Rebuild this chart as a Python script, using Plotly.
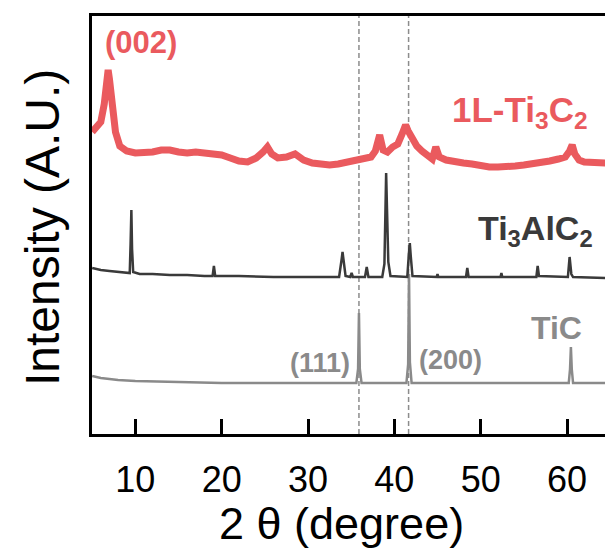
import plotly.graph_objects as go

# XRD patterns, stacked with vertical offsets (arbitrary units)
two_theta_1L = [5.0, 5.5, 6.0, 6.4, 6.7, 6.85, 7.0, 7.3, 7.7, 8.2, 9.0, 10, 11, 12, 13, 14, 15, 16, 17, 18,
                19, 20, 21, 22, 23, 24, 24.8, 25.3, 25.8, 26.5, 27.5, 28.5, 29.5, 30.5, 31.5, 32.5, 33.5, 34.5,
                35.5, 36.5, 37.3, 37.8, 38.3, 38.7, 39.2, 39.8, 40.4, 40.9, 41.3, 41.6, 42.0, 42.6, 43.2, 43.8,
                44.4, 44.8, 45.2, 46, 47, 48, 49, 50, 51, 52, 53, 54, 55, 56, 57, 58, 59, 59.8, 60.3, 60.6,
                60.9, 61.4, 62, 63, 64, 64.5]
intensity_1L = [302, 306, 312, 330, 355, 364, 355, 330, 302, 288, 283, 281, 281, 282, 284, 284, 282, 281, 282, 281,
                280, 279, 276, 273, 272, 276, 282, 287, 280, 276, 277, 280, 274, 271, 270, 269, 270, 272,
                275, 276, 277, 283, 299, 284, 282, 287, 290, 300, 309, 303, 296, 288, 283, 279,
                275, 287, 277, 274, 272, 271, 270, 268, 267, 267, 267, 268, 269, 270, 271, 273, 275, 277, 283, 289,
                280, 274, 272, 271, 271, 271]

two_theta_max = [5.0, 6, 7, 8, 9.0, 9.35, 9.45, 9.54, 9.62, 9.75, 10.5, 12, 14, 16, 18, 18.95, 19.1, 19.25, 22, 26,
                 30, 33.6, 33.9, 34.0, 34.1, 34.35, 34.9, 35.05, 35.2, 36.6, 36.8, 37.0, 38.6, 38.85, 38.95, 39.05,
                 39.15, 39.3, 39.55, 41.5, 41.68, 41.79, 41.9, 42.1, 44.9, 45.0, 45.1, 48.3, 48.45, 48.6, 52.3,
                 52.4, 52.5, 56.45, 56.6, 56.75, 60.1, 60.3, 60.5, 60.7, 64.5]
intensity_max = [166, 164, 163, 162, 161, 161, 190, 224, 185, 162, 160, 160, 159, 159, 158, 158, 168, 158, 158, 157,
                 157, 157, 175, 182, 175, 158, 157, 161, 157, 157, 167, 157, 157, 170, 215, 261,
                 225, 172, 158, 157, 180, 191, 178, 158, 157, 160, 157, 157, 166, 157, 157,
                 161, 157, 157, 168, 158, 157, 177, 160, 157, 156]

two_theta_tic = [5.0, 6, 7, 8, 10, 15, 20, 30, 35.6, 35.8, 35.9, 36.0, 36.2, 41.4, 41.6, 41.7, 41.8, 42.0,
                 60.2, 60.35, 60.45, 60.55, 60.7, 64.5]
intensity_tic = [58, 56, 55, 54, 53, 52, 51, 51, 51, 65, 121, 65, 51, 51, 70, 160, 72, 51,
                 51, 65, 87, 65, 51, 51]

tic_reflections = [35.9, 41.65]
x_ticks = [10, 20, 30, 40, 50, 60]

RED = "#EA5A5E"
DARK = "#3A3A3A"
GRAY = "#8A8A8A"
FONT = "Liberation Sans"

fig = go.Figure()
fig.add_trace(go.Scatter(x=two_theta_tic, y=intensity_tic, mode="lines",
                         line=dict(color=GRAY, width=2.5), hoverinfo="skip"))
fig.add_trace(go.Scatter(x=two_theta_max, y=intensity_max, mode="lines",
                         line=dict(color=DARK, width=2.5), hoverinfo="skip"))
fig.add_trace(go.Scatter(x=two_theta_1L, y=intensity_1L, mode="lines",
                         line=dict(color=RED, width=7), hoverinfo="skip"))

for pos in tic_reflections:
    fig.add_shape(type="line", x0=pos, x1=pos, y0=0, y1=1, xref="x", yref="paper",
                  line=dict(color="#8C8C8C", width=1.5, dash="5px,3px"), layer="below")

labels = [
    ("<b>(002)</b>", 10.6, 392, RED, 31),
    ("<b>1L-Ti<sub>3</sub>C<sub>2</sub></b>", 54.5, 322, RED, 35),
    ("<b>Ti<sub>3</sub>AlC<sub>2</sub></b>", 56.35, 204, DARK, 34),
    ("<b>TiC</b>", 58.8, 106, GRAY, 32),
    ("<b>(111)</b>", 31.4, 71, GRAY, 27),
    ("<b>(200)</b>", 46.5, 74, GRAY, 27),
]
for text, x, y, color, size in labels:
    fig.add_annotation(text=text, x=x, y=y, xref="x", yref="y", showarrow=False,
                       font=dict(family=FONT, size=size, color=color),
                       xanchor="center", yanchor="middle")

fig.add_annotation(text="Intensity (A.U.)", xref="paper", yref="paper", x=-0.0975, y=0.495,
                   textangle=-90, showarrow=False, xanchor="center", yanchor="middle",
                   font=dict(family=FONT, size=48, color="black"))
fig.add_annotation(text="2 θ (degree)", xref="paper", yref="paper", x=0.487, y=-0.215,
                   showarrow=False, xanchor="center", yanchor="middle",
                   font=dict(family=FONT, size=45, color="black"))

fig.update_xaxes(range=[4.98, 64.4], tickvals=x_ticks, ticks="inside", ticklen=15, tickwidth=3,
                 tickcolor="black", showline=True, linecolor="black", linewidth=3, mirror=True,
                 showgrid=False, zeroline=False, ticklabelstandoff=12,
                 tickfont=dict(family=FONT, size=36, color="black"))
fig.update_yaxes(range=[0, 418], showticklabels=False, ticks="", showline=True, linecolor="black",
                 linewidth=3, mirror=False, showgrid=False, zeroline=False)

fig.update_layout(width=605, height=559, margin=dict(l=92, r=0, t=16, b=125),
                  paper_bgcolor="white", plot_bgcolor="white", showlegend=False)

fig.write_html("out.html")
